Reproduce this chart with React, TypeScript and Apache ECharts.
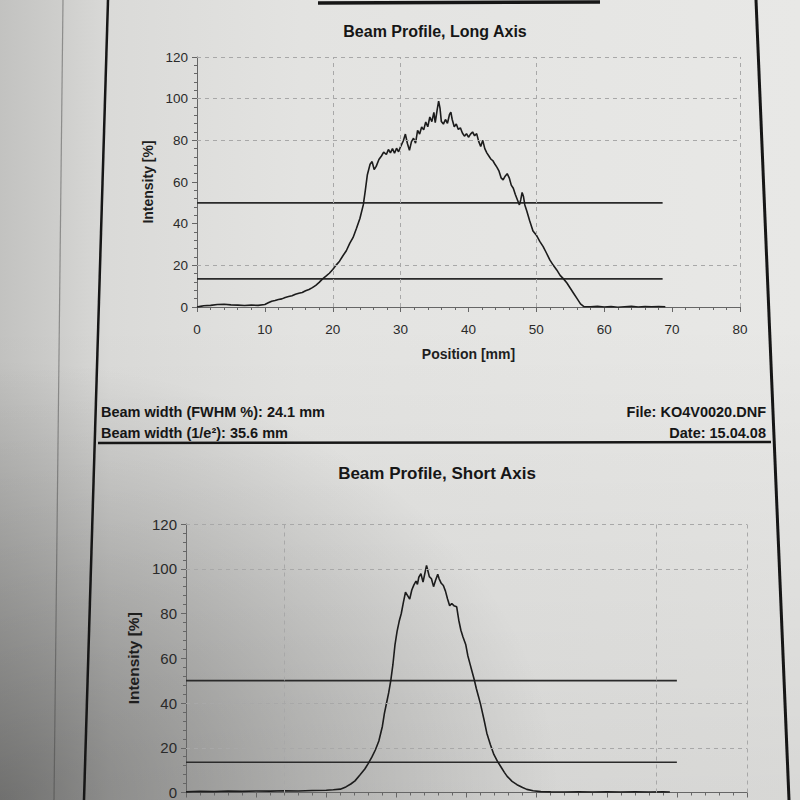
import React, { useEffect, useRef } from "react";
import * as echarts from "echarts";

// ---------- data ----------
const longPos = [
  0, 0.5, 1, 2, 3, 4, 5, 6, 7, 8, 9, 10, 10.5, 11, 11.5, 12, 12.5, 13, 13.5, 14, 14.5, 15, 15.5, 16, 16.5, 17,
  17.5, 18, 18.5, 19, 19.5, 20, 20.5, 21, 21.5, 22, 22.5, 23, 23.5, 24, 24.5, 24.8, 25.1, 25.5, 25.8, 26.1,
  26.4, 26.8, 27.2, 27.5, 27.9, 28.2, 28.5, 28.8, 29.1, 29.4, 29.7, 30.0, 30.4, 30.7, 31.0, 31.3, 31.6, 31.9,
  32.2, 32.5, 32.8, 33.1, 33.4, 33.7, 34.0, 34.3, 34.6, 34.9, 35.1, 35.4, 35.6, 35.8, 36.0, 36.3, 36.6, 36.9,
  37.2, 37.4, 37.6, 37.9, 38.2, 38.5, 38.8, 39.1, 39.4, 39.7, 40.0, 40.3, 40.6, 40.9, 41.2, 41.5, 41.8, 42.1,
  42.4, 42.7, 43.0, 43.3, 43.6, 43.9, 44.2, 44.5, 44.8, 45.1, 45.4, 45.7, 46.0, 46.3, 46.6, 46.9, 47.2, 47.5,
  47.7, 47.9, 48.1, 48.3, 48.6, 49.0, 49.5, 50.0, 50.5, 51.0, 51.5, 52.0, 52.5, 53.0, 53.5, 54.0, 54.5, 55.0,
  55.5, 56.0, 56.5, 57.0, 58, 59, 60, 61, 62, 63, 64, 65, 66, 67, 68, 69,
];
const longInt = [
  0, 0.3, 0.6, 0.8, 1.2, 1.3, 1.0, 0.9, 0.7, 0.9, 0.8, 1.2, 2.0, 2.8, 3.1, 3.6, 3.9, 4.6, 5.0, 5.4, 6.1, 6.6, 7.0,
  7.8, 8.4, 9.3, 10.4, 11.8, 13.5, 14.8, 16.2, 18.0, 20.1, 22.0, 24.6, 27.0, 30.5, 33.4, 37.8, 42.5, 49.0, 56,
  63.5, 68.5, 69.8, 66.0, 67.5, 70.8, 72.6, 74.3, 73.2, 75.6, 74.0, 76.0, 73.8, 76.2, 74.5, 77.0, 79.8, 83.0,
  78.5, 75.2, 79.4, 81.0, 78.6, 84.8, 83.0, 86.4, 85.0, 88.8, 86.5, 91.2, 89.0, 93.4, 88.5, 95.0, 98.8, 95.5,
  89.0, 87.8, 90.0, 88.2, 92.4, 93.5, 90.0, 86.5, 87.8, 85.2, 86.0, 83.5, 82.0, 83.2, 81.5, 83.0, 84.0, 82.2,
  83.2, 79.5, 77.0, 80.0, 76.0, 74.0, 72.5, 71.0, 70.2, 68.5, 67.0, 65.2, 62.0, 61.0, 62.8, 64.0, 62.0, 58.5,
  57.0, 54.0, 51.5, 49.0, 51.5, 55.0, 53.0, 49.0, 46.0, 41.5, 36.5, 34.5, 31.5, 29.0, 25.8, 22.5, 20.0, 17.8,
  15.2, 13.5, 11.5, 9.0, 6.5, 4.0, 1.5, 0.2, 0.1, 0.3, 0, 0.2, -0.1, 0.1, 0.3, 0, 0.2, 0.1, 0.2, 0.1,
];

const shortPos = [
  0, 2, 4, 6, 8, 10, 12, 14, 16, 18, 20, 21, 22, 22.8, 23.5, 24.1, 24.8, 25.5, 26, 26.5, 27, 27.5, 28, 28.3,
  28.6, 28.9, 29.2, 29.5, 29.8, 30.1, 30.4, 30.7, 31.0, 31.3, 31.6, 31.9, 32.2, 32.5, 32.8, 33.0, 33.2, 33.5,
  33.8, 34.0, 34.3, 34.5, 34.7, 35.0, 35.3, 35.6, 35.9, 36.1, 36.4, 36.7, 37.0, 37.3, 37.6, 37.9, 38.2, 38.6,
  38.9, 39.2, 39.5, 39.9, 40.2, 40.5, 40.8, 41.1, 41.4, 41.7, 42.0, 42.5, 42.9, 43.4, 43.9, 44.4, 44.9, 45.4,
  45.8, 46.5, 47.2, 48.0, 48.6, 49.5, 50.6, 52, 54, 56, 58, 60, 62, 64, 66, 68, 69,
];
const shortInt = [
  0.3, 0.5, 0.4, 0.6, 0.5, 0.7, 0.6, 0.8, 0.7, 0.9, 1.0, 1.2, 1.5, 2.5, 3.8, 5.2, 7.8, 10.5, 13.0, 15.8, 19.0,
  23.0, 29.5, 35.5, 40.0, 44.5, 50.0, 57.0, 66.0, 72.0, 76.5, 80.0, 85.0, 89.5, 88.0, 86.5, 90.5, 92.8, 94.5,
  93.0, 96.2, 97.8, 94.0, 97.0, 101.5, 99.0, 96.5, 95.5, 92.0, 95.0, 97.5, 95.5, 93.5, 92.5, 90.0, 86.5, 83.5,
  84.5, 83.5, 83.0, 77.0, 72.5, 69.5, 66.0, 61.0, 57.5, 54.0, 50.5, 46.5, 43.0, 39.5, 32.5, 26.5, 21.5, 17.0,
  14.0, 11.5, 9.0, 7.2, 5.0, 3.5, 2.2, 1.4, 0.8, 0.4, 0.3, 0.2, 0.3, 0.2, 0.3, 0.2, 0.3, 0.2, 0.3, 0.2,
];

const fwhmLevel = 50;
const e2Level = 13.5;
const longLineEnd = 68.6;
const shortLineEnd = 70;

const longGridX = [20, 30, 50, 80];
const longGridY = [20, 80, 100, 120];
const shortGridX = [14, 67, 80];
const shortGridY = [20, 40, 100, 120];

const longTitle = "Beam Profile, Long Axis";
const shortTitle = "Beam Profile, Short Axis";
const xName = "Position [mm]";
const yName = "Intensity [%]";
const infoLeft = ["Beam width (FWHM %): 24.1 mm", "Beam width (1/e\u00B2): 35.6 mm"];
const infoRight = ["File: KO4V0020.DNF", "Date: 15.04.08"];

const FONT = "'Liberation Sans', Arial, sans-serif";
const INK = "#1c1c1c";
const AXIS = "#666";

function xAxisCfg(gridIndex: number, showLabels: boolean) {
  return {
    type: "value",
    gridIndex,
    min: 0,
    max: 80,
    interval: 10,
    name: showLabels ? xName : "",
    nameLocation: "middle",
    nameGap: 40,
    nameTextStyle: { fontFamily: FONT, fontWeight: "bold", fontSize: 14, color: "#1e1e1e" },
    axisLine: { show: true, onZero: false, lineStyle: { color: AXIS, width: 1 } },
    axisTick: { show: true, length: 5, lineStyle: { color: AXIS } },
    minorTick: { show: true, splitNumber: 5, length: 3, lineStyle: { color: AXIS } },
    axisLabel: { show: showLabels, margin: 15, fontFamily: FONT, fontSize: 13.5, color: "#2a2a2a" },
    splitLine: { show: false },
    minorSplitLine: { show: false },
  };
}

function yAxisCfg(gridIndex: number, nameGap: number, labelSize: number, nameSize: number) {
  return {
    type: "value",
    gridIndex,
    min: 0,
    max: 120,
    interval: 20,
    name: yName,
    nameLocation: "middle",
    nameGap,
    nameRotate: 90,
    nameTextStyle: { fontFamily: FONT, fontWeight: "bold", fontSize: nameSize, color: "#1e1e1e" },
    axisLine: { show: true, onZero: false, lineStyle: { color: AXIS, width: 1 } },
    axisTick: { show: true, length: 5, lineStyle: { color: AXIS } },
    minorTick: { show: true, splitNumber: 5, length: 3, lineStyle: { color: AXIS } },
    axisLabel: { margin: 9, fontFamily: FONT, fontSize: labelSize, color: "#2a2a2a" },
    splitLine: { show: false },
    minorSplitLine: { show: false },
  };
}

function levelSeries(idx: number, level: number, end: number, grids: { x: number[]; y: number[] } | null) {
  const s: any = {
    type: "line",
    xAxisIndex: idx,
    yAxisIndex: idx,
    data: [
      [0, level],
      [end, level],
    ],
    showSymbol: false,
    symbol: "none",
    silent: true,
    z: 2,
    lineStyle: { color: "#2a2a2a", width: 1.6 },
  };
  if (grids) {
    s.markLine = {
      silent: true,
      symbol: ["none", "none"],
      label: { show: false },
      lineStyle: { color: "#a8a8a8", width: 1, type: [4, 4] },
      data: [...grids.x.map((v) => ({ xAxis: v })), ...grids.y.map((v) => ({ yAxis: v }))],
    };
  }
  return s;
}

function profileSeries(idx: number, xs: number[], ys: number[]) {
  return {
    type: "line",
    xAxisIndex: idx,
    yAxisIndex: idx,
    data: xs.map((x, i) => [x, ys[i]]),
    showSymbol: false,
    symbol: "none",
    silent: true,
    z: 3,
    lineStyle: { color: INK, width: 1.6 },
  };
}

function txt(text: string, x: number, y: number, align: string, size: number, weight = "bold") {
  return {
    type: "text",
    z: 50,
    silent: true,
    x,
    y,
    style: {
      text,
      fill: "#161616",
      fontFamily: FONT,
      fontSize: size,
      fontWeight: weight,
      textAlign: align,
      textVerticalAlign: "middle",
    },
  };
}

function frameLine(x1: number, y1: number, x2: number, y2: number, w: number) {
  return {
    type: "line",
    z: 40,
    silent: true,
    shape: { x1, y1, x2, y2 },
    style: { stroke: "#161616", lineWidth: w },
  };
}

export default function App() {
  const ref = useRef<HTMLDivElement>(null);
  useEffect(() => {
    if (!ref.current) return;
    const chart = echarts.init(ref.current, undefined, { renderer: "svg" });
    chart.setOption({
      animation: false,
      backgroundColor: "transparent",
      grid: [
        { left: 197, top: 57, width: 543, height: 250 },
        { left: 186, top: 524, width: 561, height: 273 },
      ],
      xAxis: [xAxisCfg(0, true), xAxisCfg(1, false)],
      yAxis: [yAxisCfg(0, 42, 13.5, 14), yAxisCfg(1, 45, 15, 15.5)],
      series: [
        levelSeries(0, fwhmLevel, longLineEnd, { x: longGridX, y: longGridY }),
        levelSeries(0, e2Level, longLineEnd, null),
        profileSeries(0, longPos, longInt),
        levelSeries(1, fwhmLevel, shortLineEnd, { x: shortGridX, y: shortGridY }),
        levelSeries(1, e2Level, shortLineEnd, null),
        profileSeries(1, shortPos, shortInt),
      ],
      graphic: [
        // page frame
        frameLine(108, 0, 84, 800, 2.5),
        frameLine(756, 0, 789, 800, 3),
        frameLine(98, 443, 771, 442, 2.5),
        frameLine(318, 3, 600, 2, 3.5),
        // left page edge
        {
          type: "line",
          z: 5,
          silent: true,
          shape: { x1: 63, y1: 0, x2: 54, y2: 800 },
          style: { stroke: "rgba(60,60,60,0.45)", lineWidth: 1.2 },
        },
        // titles and info
        txt(longTitle, 435, 31, "center", 16),
        txt(shortTitle, 437, 473, "center", 17),
        txt(infoLeft[0], 101, 412, "left", 14.5),
        txt(infoLeft[1], 101, 433, "left", 14.5),
        txt(infoRight[0], 766, 412, "right", 14.5),
        txt(infoRight[1], 766, 433, "right", 14.5),
      ],
    });
    return () => chart.dispose();
  }, []);
  return (
    <div
      style={{
        position: "fixed",
        left: 0,
        top: 0,
        width: 800,
        height: 800,
        overflow: "hidden",
        background:
          "radial-gradient(ellipse 70% 55% at 0% 100%, rgba(0,0,0,0.38) 0%, rgba(0,0,0,0) 100%), " +
          "linear-gradient(to bottom, rgba(0,0,0,0) 40%, rgba(0,0,0,0.07) 100%), " +
          "linear-gradient(to right, #c2c2c0 0px, #cececc 60px, #dadad8 110px, #e3e3e1 300px, #e8e8e6 800px)",
      }}
    >
      <div ref={ref} style={{ width: 800, height: 800 }} />
    </div>
  );
}
